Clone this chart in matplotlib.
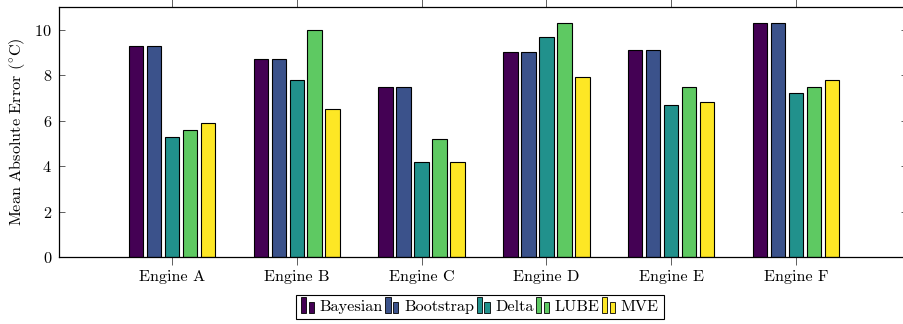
import matplotlib
matplotlib.use("Agg")
import matplotlib.pyplot as plt
from matplotlib.patches import Rectangle
from matplotlib.legend_handler import HandlerBase
import numpy as np

plt.rcParams["font.family"] = "serif"
plt.rcParams["font.serif"] = ["cmr10"]
plt.rcParams["mathtext.fontset"] = "cm"
plt.rcParams["axes.formatter.use_mathtext"] = True

engines = ["Engine A", "Engine B", "Engine C", "Engine D", "Engine E", "Engine F"]
methods = ["Bayesian", "Bootstrap", "Delta", "LUBE", "MVE"]
colors = ["#440154", "#3b528b", "#21918c", "#5ec962", "#fde725"]

bayesian = [9.3, 8.7, 7.5, 9.0, 9.1, 10.3]
bootstrap = [9.3, 8.7, 7.5, 9.0, 9.1, 10.3]
delta = [5.3, 7.8, 4.2, 9.7, 6.7, 7.2]
lube = [5.6, 10.0, 5.2, 10.3, 7.5, 7.5]
mve = [5.9, 6.5, 4.2, 7.9, 6.8, 7.8]
series = [bayesian, bootstrap, delta, lube, mve]

FS = 11.7


class TwoBarHandler(HandlerBase):
    """Legend key made of two small bars of different heights."""

    def create_artists(self, legend, orig_handle, xdescent, ydescent,
                       width, height, fontsize, trans):
        fc = orig_handle.get_facecolor()
        bw = width * 0.32
        gap = width * 0.16
        r1 = Rectangle((-xdescent, -ydescent - 0.2 * height), bw, height * 1.45,
                       facecolor=fc, edgecolor="black", linewidth=0.6, transform=trans)
        r2 = Rectangle((-xdescent + bw + gap, -ydescent - 0.2 * height), bw, height * 1.0,
                       facecolor=fc, edgecolor="black", linewidth=0.6, transform=trans)
        return [r1, r2]


fig = plt.figure(figsize=(9.04, 3.24), dpi=100)
ax = fig.add_axes([59 / 904, 1 - 257 / 324, (907 - 59) / 904, 250 / 324])

x = np.arange(len(engines))
step = 0.144
bw = 0.116
handles = []
for i, (name, vals, c) in enumerate(zip(methods, series, colors)):
    bars = ax.bar(x + (i - 2) * step, vals, width=bw, color=c,
                  edgecolor="black", linewidth=0.8, label=name, zorder=2)
    handles.append(bars[0])

ax.set_xlim(-0.905, 5.89)
ax.set_ylim(0, 11)
ax.set_xticks(x)
ax.set_xticklabels(engines)
ax.set_yticks([0, 2, 4, 6, 8, 10])
ax.tick_params(axis="x", direction="out", top=True, length=6, width=0.6,
               color="#444444", labelsize=FS, pad=3)
ax.tick_params(axis="y", direction="in", right=True, length=4, width=0.6,
               color="#444444", labelsize=FS, pad=5)
for s in ax.spines.values():
    s.set_linewidth(0.9)
ax.set_ylabel(r"Mean Absolute Error ($^{\circ}$C)", fontsize=FS, labelpad=5)

leg = fig.legend(handles=handles, labels=methods, loc="center",
                 bbox_to_anchor=(480 / 904, 1 - 307 / 324), ncol=5,
                 handler_map={h: TwoBarHandler() for h in handles},
                 fontsize=FS, frameon=True, fancybox=False, framealpha=1,
                 edgecolor="black", handlelength=1.0, handleheight=0.7,
                 handletextpad=0.15, columnspacing=0.15, borderpad=0.3,
                 borderaxespad=0)
leg.get_frame().set_linewidth(0.8)

fig.savefig("out.png", dpi=100)
